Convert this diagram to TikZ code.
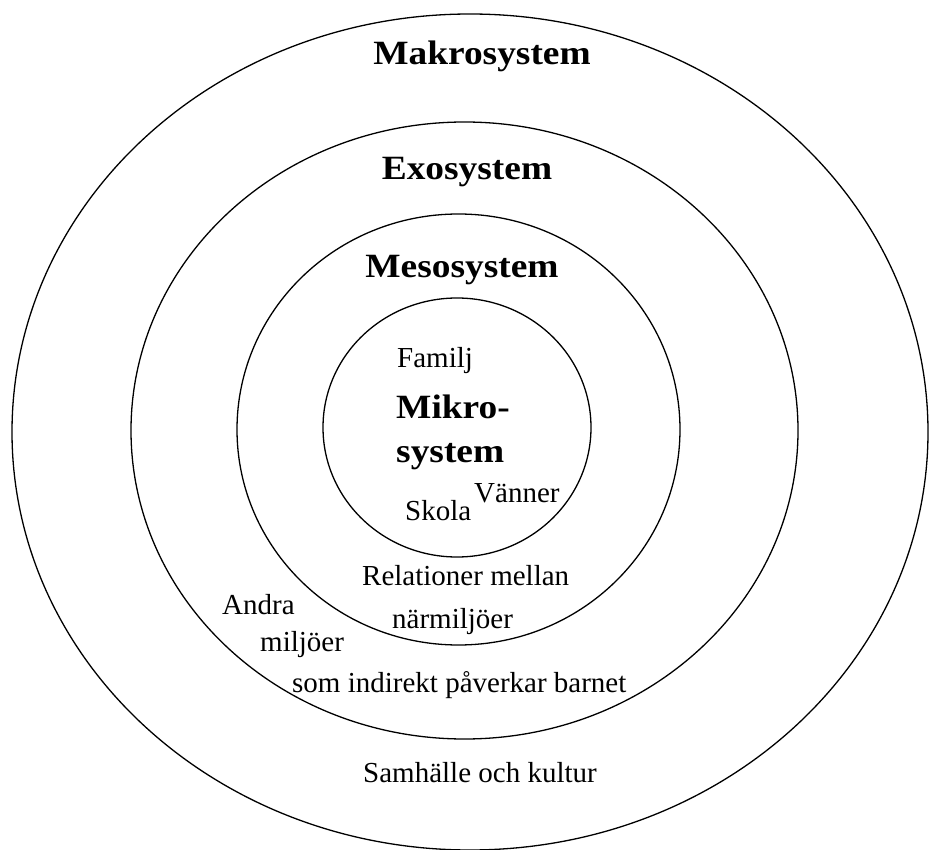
\documentclass[tikz,border=0pt]{standalone}
\usepackage{fontspec}
\setmainfont{Liberation Serif}
\begin{document}
\begin{tikzpicture}[x=1pt,y=-1pt,
  ring/.style={draw=black,line width=1.3pt},
  title/.style={font=\fontsize{34}{40}\selectfont\bfseries,inner sep=0pt,xscale=1.1},
  lbl/.style={font=\fontsize{29}{34}\selectfont,inner sep=0pt}]
\useasboundingbox (0,0) rectangle (930,850);
% rings
\draw[ring] (470,432) ellipse [x radius=458, y radius=418];
\draw[ring] (464.5,430.5) ellipse [x radius=333.5, y radius=308.5];
\draw[ring] (458.5,429.5) ellipse [x radius=221.5, y radius=215.5];
\draw[ring] (457,427.5) ellipse [x radius=134, y radius=129.5];
% titles
\node[title,anchor=base] (makro) at (482,65) {Makrosystem};
\node[title,anchor=base] (exo) at (467,180) {Exosystem};
\node[title,anchor=base] (meso) at (462,278) {Mesosystem};
\node[title,anchor=base west] (mikro1) at (396,419) {Mikro-};
\node[title,anchor=base west] (mikro2) at (396,463) {system};
% labels
\node[lbl,anchor=base west] (familj) at (397,368) {Familj};
\node[lbl,anchor=base west] (vanner) at (474,503) {Vänner};
\node[lbl,anchor=base west] (skola) at (405,521) {Skola};
\node[lbl,anchor=base west] (rel1) at (362,585) {Relationer mellan};
\node[lbl,anchor=base west] (rel2) at (392,628) {närmiljöer};
\node[lbl,anchor=base west] (andra1) at (222,614) {Andra};
\node[lbl,anchor=base west] (andra2) at (260,651) {miljöer};
\node[lbl,anchor=base west] (andra3) at (292,692) {som indirekt påverkar barnet};
\node[lbl,anchor=base west] (samh) at (363,782) {Samhälle och kultur};
\end{tikzpicture}
\end{document}
